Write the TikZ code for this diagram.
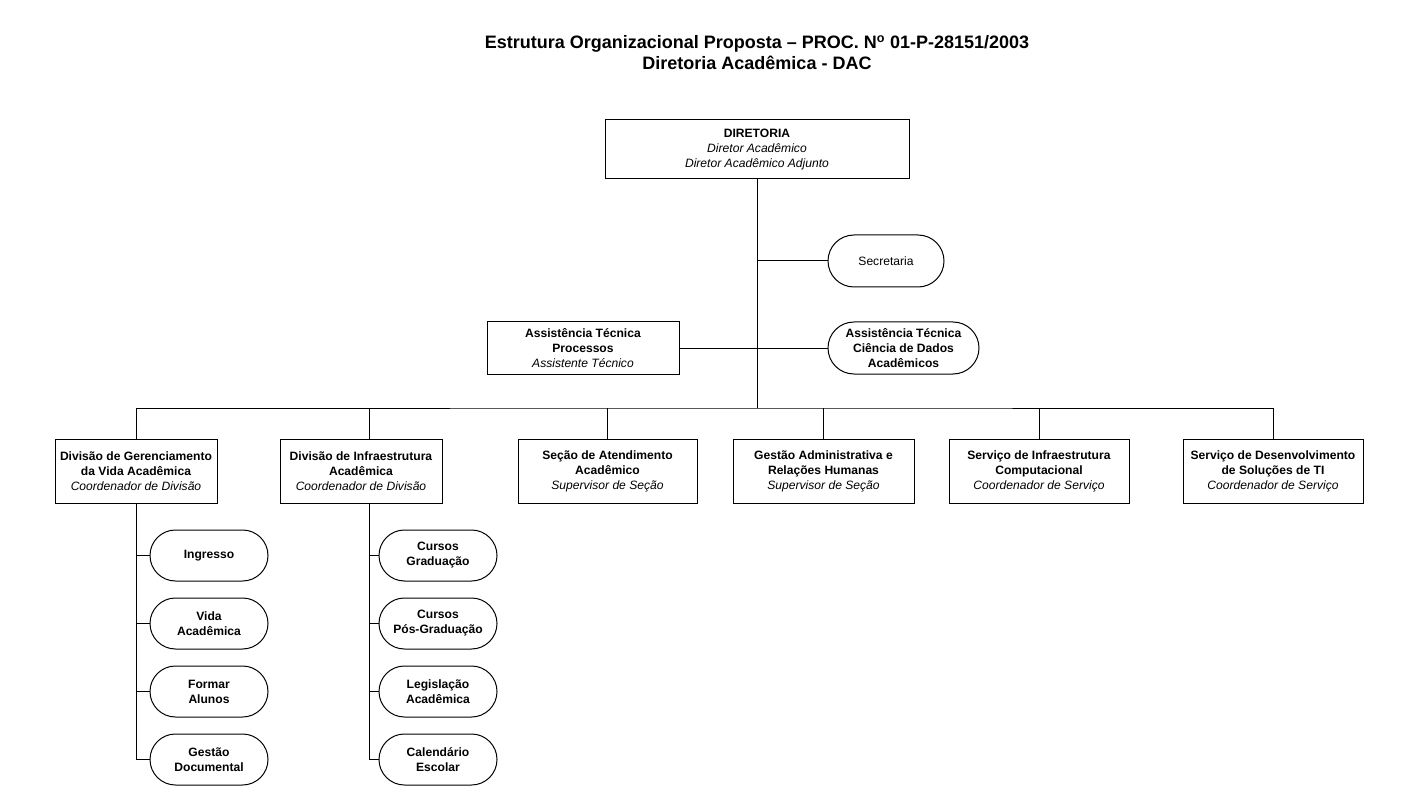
\documentclass[tikz,border=0pt]{standalone}
\usepackage{fontspec}
\setmainfont{Liberation Sans}
\begin{document}
\begin{tikzpicture}[x=1pt,y=-1pt,
  every node/.style={inner sep=0pt,outer sep=0pt},
  txt/.style={font=\fontsize{12.1}{15}\selectfont,align=center},
  box/.style={txt,draw,line width=1pt,rectangle},
  pill/.style={txt,draw,line width=1pt,rounded corners=25.5pt,minimum width=118pt,minimum height=51pt},
  conn/.style={line width=1pt}]
\useasboundingbox (0,0) rectangle (1403,810);
\node[font=\bfseries\fontsize{18}{21}\selectfont,align=center] (title) at (757,53)
  {Estrutura Organizacional Proposta -- PROC. N\textsuperscript{o} 01-P-28151/2003\\Diretoria Acadêmica - DAC};

\node[box,minimum width=304pt,minimum height=59pt] (dir) at (757,149.5)
  {\textbf{DIRETORIA}\\\textit{Diretor Acadêmico}\\\textit{Diretor Acadêmico Adjunto}};

\node[pill,minimum width=116pt,minimum height=52pt,rounded corners=26pt] (sec) at (886,261) {Secretaria};
\node[box,minimum width=192pt,minimum height=52pt] (atp) at (583,348)
  {\textbf{Assistência Técnica}\\\textbf{Processos}\\\textit{Assistente Técnico}};
\node[pill,minimum width=151pt,minimum height=52pt,rounded corners=26pt] (atc) at (903.5,348)
  {\textbf{Assistência Técnica}\\\textbf{Ciência de Dados}\\\textbf{Acadêmicos}};

\coordinate (jsec) at (757,261);
\coordinate (bus) at (757,408);

\node[box,minimum width=162pt,minimum height=64pt] (d1) at (136,471)
  {\textbf{Divisão de Gerenciamento}\\\textbf{da Vida Acadêmica}\\\textit{Coordenador de Divisão}};
\node[box,minimum width=162pt,minimum height=64pt] (d2) at (361,471)
  {\textbf{Divisão de Infraestrutura}\\\textbf{Acadêmica}\\\textit{Coordenador de Divisão}};
\node[box,minimum width=179pt,minimum height=64pt] (d3) at (607.5,471)
  {\textbf{Seção de Atendimento}\\\textbf{Acadêmico}\\\textit{Supervisor de Seção}};
\node[box,minimum width=181pt,minimum height=64pt] (d4) at (823.5,471)
  {\textbf{Gestão Administrativa e}\\\textbf{Relações Humanas}\\\textit{Supervisor de Seção}};
\node[box,minimum width=180pt,minimum height=64pt] (d5) at (1039,471)
  {\textbf{Serviço de Infraestrutura}\\\textbf{Computacional}\\\textit{Coordenador de Serviço}};
\node[box,minimum width=180pt,minimum height=64pt] (d6) at (1273,471)
  {\textbf{Serviço de Desenvolvimento}\\\textbf{de Soluções de TI}\\\textit{Coordenador de Serviço}};
\coordinate (d2top) at (369,439);
\coordinate (d2bot) at (369,503);

\node[pill] (a1) at (209,555.5) {\textbf{Ingresso}};
\node[pill] (a2) at (209,623.5) {\textbf{Vida}\\\textbf{Acadêmica}};
\node[pill] (a3) at (209,691.5) {\textbf{Formar}\\\textbf{Alunos}};
\node[pill] (a4) at (209,759.5) {\textbf{Gestão}\\\textbf{Documental}};

\node[pill] (b1) at (438,555.5) {\textbf{Cursos}\\\textbf{Graduação}};
\node[pill] (b2) at (438,623.5) {\textbf{Cursos}\\\textbf{Pós-Graduação}};
\node[pill] (b3) at (438,691.5) {\textbf{Legislação}\\\textbf{Acadêmica}};
\node[pill] (b4) at (438,759.5) {\textbf{Calendário}\\\textbf{Escolar}};

% trunk
\draw[conn] (dir.south) -- (bus);
\draw[conn] (jsec) -- (sec.west);
\draw[conn] (atp.east) -- (atc.west);
% bus
\draw[conn] (d1.north) |- (bus) -| (d6.north);
\draw[conn] (d2top) -- (d2top |- bus);
\foreach \n in {d3,d4,d5} \draw[conn] (\n.north) -- (\n.north |- bus);
% sub columns
\draw[conn] (d1.south) -- (d1.south |- a4.west) -- (a4.west);
\foreach \n in {a1,a2,a3} \draw[conn] (d1.south |- \n.west) -- (\n.west);
\draw[conn] (d2bot) -- (d2bot |- b4.west) -- (b4.west);
\foreach \n in {b1,b2,b3} \draw[conn] (d2bot |- \n.west) -- (\n.west);
\end{tikzpicture}
\end{document}
